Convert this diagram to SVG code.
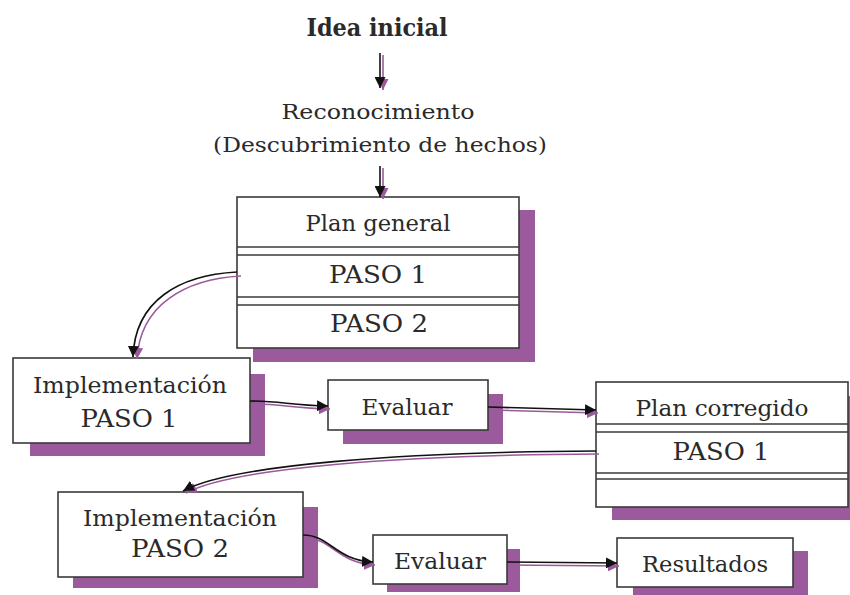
<svg xmlns="http://www.w3.org/2000/svg" width="850" height="595" viewBox="0 0 850 595">
<style>
.t{font-family:"DejaVu Serif","Liberation Serif",serif;fill:#2a2a2a;text-anchor:middle;}
.box{fill:#fff;stroke:#3a3a3a;stroke-width:1.6;}
.sh{fill:#9b5a9b;}
.div{stroke:#3a3a3a;stroke-width:1.4;fill:none;}
.c{fill:none;stroke:#111;stroke-width:1.6;}
.cs{fill:none;stroke:#9b5a9b;stroke-width:1.6;}
</style>
<defs>
<marker id="ah" viewBox="0 0 10 10" refX="10" refY="5" markerWidth="11" markerHeight="11" markerUnits="userSpaceOnUse" orient="auto"><path d="M0,0 L10,5 L0,10 z" fill="#111"/></marker>
<marker id="ahs" viewBox="0 0 10 10" refX="10" refY="5" markerWidth="11" markerHeight="11" markerUnits="userSpaceOnUse" orient="auto"><path d="M0,0 L10,5 L0,10 z" fill="#9b5a9b"/></marker>
</defs>

<g id="idea"><text class="t" x="377" y="36" font-size="24" font-weight="bold" textLength="141" lengthAdjust="spacingAndGlyphs">Idea inicial</text></g>
<g id="reconocimiento">
<text class="t" x="378" y="119" font-size="21" textLength="193" lengthAdjust="spacingAndGlyphs">Reconocimiento</text>
<text class="t" x="380" y="152" font-size="21" textLength="334" lengthAdjust="spacingAndGlyphs">(Descubrimiento de hechos)</text>
</g>

<g id="plan-general">
<rect class="sh" x="253" y="210" width="282" height="152"/>
<rect class="box" x="237" y="197" width="282" height="151"/>
<line class="div" x1="237" y1="247" x2="519" y2="247"/><line class="div" x1="237" y1="255" x2="519" y2="255"/>
<line class="div" x1="237" y1="297" x2="519" y2="297"/><line class="div" x1="237" y1="305" x2="519" y2="305"/>
<text class="t" x="378" y="231" font-size="23" textLength="145" lengthAdjust="spacingAndGlyphs">Plan general</text>
<text class="t" x="378" y="283" font-size="24" textLength="98" lengthAdjust="spacingAndGlyphs">PASO 1</text>
<text class="t" x="379" y="332" font-size="24" textLength="98" lengthAdjust="spacingAndGlyphs">PASO 2</text>
</g>

<g id="impl1">
<rect class="sh" x="30" y="374" width="235" height="82"/>
<rect class="box" x="13" y="358" width="237" height="85"/>
<text class="t" x="130" y="393" font-size="23" textLength="194" lengthAdjust="spacingAndGlyphs">Implementación</text>
<text class="t" x="129" y="427" font-size="24" textLength="97" lengthAdjust="spacingAndGlyphs">PASO 1</text>
</g>

<g id="evaluar1">
<rect class="sh" x="343" y="394" width="160" height="50"/>
<rect class="box" x="328" y="380" width="160" height="50"/>
<text class="t" x="407" y="415" font-size="23" textLength="91" lengthAdjust="spacingAndGlyphs">Evaluar</text>
</g>

<g id="plan-corregido">
<rect class="sh" x="612" y="396" width="252" height="124"/>
<rect class="box" x="596" y="382" width="252" height="125"/>
<line class="div" x1="596" y1="424" x2="848" y2="424"/><line class="div" x1="596" y1="432" x2="848" y2="432"/>
<line class="div" x1="596" y1="473" x2="848" y2="473"/><line class="div" x1="596" y1="479" x2="848" y2="479"/>
<text class="t" x="722" y="416" font-size="23" textLength="173" lengthAdjust="spacingAndGlyphs">Plan corregido</text>
<text class="t" x="721" y="460" font-size="24" textLength="97" lengthAdjust="spacingAndGlyphs">PASO 1</text>
</g>

<g id="impl2">
<rect class="sh" x="73" y="507" width="245" height="81"/>
<rect class="box" x="58" y="492" width="245" height="85"/>
<text class="t" x="180" y="526" font-size="23" textLength="194" lengthAdjust="spacingAndGlyphs">Implementación</text>
<text class="t" x="180" y="557" font-size="24" textLength="98" lengthAdjust="spacingAndGlyphs">PASO 2</text>
</g>

<g id="evaluar2">
<rect class="sh" x="387" y="549" width="133" height="43"/>
<rect class="box" x="373" y="535" width="134" height="49"/>
<text class="t" x="440" y="569" font-size="23" textLength="92" lengthAdjust="spacingAndGlyphs">Evaluar</text>
</g>

<g id="resultados">
<rect class="sh" x="633" y="551" width="175" height="44"/>
<rect class="box" x="617" y="538" width="176" height="49"/>
<text class="t" x="705" y="572" font-size="23" textLength="126" lengthAdjust="spacingAndGlyphs">Resultados</text>
</g>

<g id="connectors">
<path class="cs" stroke-width="3" d="M383,55 L383,90" marker-end="url(#ahs)"/>
<path class="c" stroke-width="3" d="M380,53 L380,88" marker-end="url(#ah)"/>
<path class="cs" stroke-width="3" d="M383,168 L383,199" marker-end="url(#ahs)"/>
<path class="c" stroke-width="3" d="M380,166 L380,197" marker-end="url(#ah)"/>

<path class="cs" d="M241,276 C185,279 140,305 137,359" marker-end="url(#ahs)"/>
<path class="c" d="M237,272 C180,275 135,300 133,357" marker-end="url(#ah)"/>

<path class="cs" d="M252,404 C282,404 292,408 330,409" marker-end="url(#ahs)"/>
<path class="c" d="M250,401 C280,401 290,405 328,406" marker-end="url(#ah)"/>

<path class="cs" d="M490,410 L598,413" marker-end="url(#ahs)"/>
<path class="c" d="M488,407 L596,410" marker-end="url(#ah)"/>

<path class="cs" d="M599,454 C400,455 232,468 186,493" marker-end="url(#ahs)"/>
<path class="c" d="M596,451 C400,452 230,465 183,491" marker-end="url(#ah)"/>

<path class="cs" d="M305,538 C332,538 337,563 375,565" marker-end="url(#ahs)"/>
<path class="c" d="M303,535 C330,535 335,560 373,562" marker-end="url(#ah)"/>

<path class="cs" d="M509,565 L619,566" marker-end="url(#ahs)"/>
<path class="c" d="M507,562 L617,563" marker-end="url(#ah)"/>
</g>
</svg>
